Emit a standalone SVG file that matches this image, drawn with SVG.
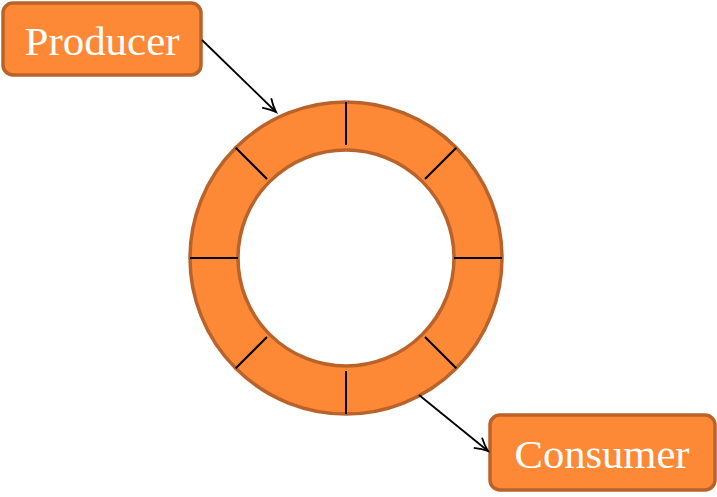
<svg xmlns="http://www.w3.org/2000/svg" width="717" height="497" viewBox="0 0 717 497">
<style>
.box{fill:#fd8937;stroke:#b9632b;stroke-width:3.5}
.lbl{fill:#ffffff;font-family:"Liberation Serif","DejaVu Serif",serif;font-size:40px}
.tick{stroke:#000;stroke-width:2}
.conn{stroke:#000;stroke-width:1.8;fill:none}
</style>
<defs>
<marker id="arr" markerWidth="18" markerHeight="18" refX="15" refY="9" orient="auto" markerUnits="userSpaceOnUse">
<path d="M2,2.5 Q9,7 15,9 Q9,11 2,15.5" fill="none" stroke="#000" stroke-width="1.8"/>
</marker>
</defs>
<g id="ring">
<path d="M190,258 A156,156 0 1,0 502,258 A156,156 0 1,0 190,258 Z M238,258 A108,108 0 1,1 454,258 A108,108 0 1,1 238,258 Z" fill="#fd8937" fill-rule="evenodd" stroke="#b9632b" stroke-width="3.5"/>
<g class="tick">
<line x1="346" y1="102" x2="346" y2="145"/>
<line x1="346" y1="371" x2="346" y2="414"/>
<line x1="190" y1="258" x2="238" y2="258"/>
<line x1="454" y1="258" x2="502" y2="258"/>
<line x1="235.7" y1="147.7" x2="267" y2="179"/>
<line x1="456.3" y1="147.7" x2="425" y2="179"/>
<line x1="235.7" y1="368.3" x2="267" y2="337"/>
<line x1="456.3" y1="368.3" x2="425" y2="337"/>
</g>
</g>
<g id="producer">
<rect class="box" x="3" y="3" width="198" height="72" rx="10"/>
<text class="lbl" x="102" y="55" text-anchor="middle" textLength="155" lengthAdjust="spacingAndGlyphs">Producer</text>
</g>
<g id="consumer">
<rect class="box" x="490" y="415" width="225" height="75" rx="10"/>
<text class="lbl" x="602" y="468" text-anchor="middle" textLength="175" lengthAdjust="spacingAndGlyphs">Consumer</text>
</g>
<g id="connectors">
<line class="conn" x1="202" y1="40" x2="276" y2="112" marker-end="url(#arr)"/>
<line class="conn" x1="419" y1="395" x2="488" y2="451" marker-end="url(#arr)"/>
</g>
</svg>
